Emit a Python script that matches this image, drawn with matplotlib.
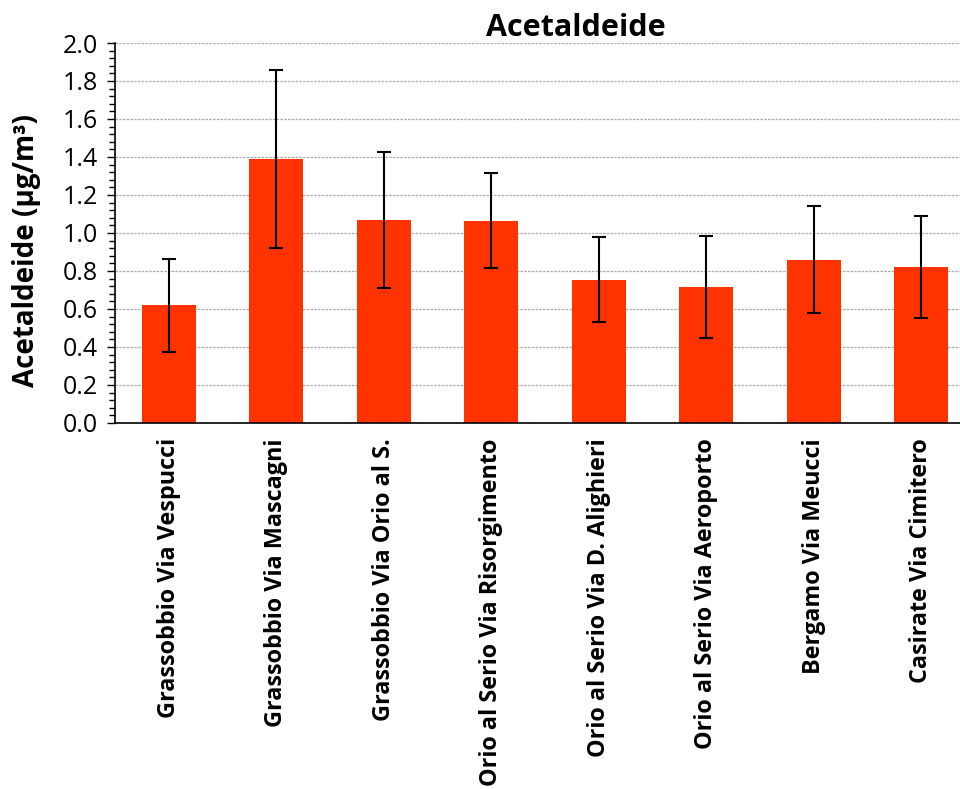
import matplotlib
matplotlib.use('Agg')
import matplotlib.pyplot as plt
from matplotlib.ticker import MultipleLocator

plt.rcParams['font.family'] = ['Open Sans', 'DejaVu Sans']

sites = ['Grassobbio Via Vespucci', 'Grassobbio Via Mascagni', 'Grassobbio Via Orio al S.',
         'Orio al Serio Via Risorgimento', 'Orio al Serio Via D. Alighieri',
         'Orio al Serio Via Aeroporto', 'Bergamo Via Meucci', 'Casirate Via Cimitero']
means = [0.62, 1.39, 1.07, 1.065, 0.755, 0.715, 0.86, 0.82]
errs = [0.245, 0.467, 0.358, 0.25, 0.223, 0.267, 0.283, 0.27]

fig = plt.figure(figsize=(9.6, 7.89), dpi=100)
ax = fig.add_axes([0.1198, 0.4639, 0.8802, 0.4816])

x = range(len(sites))
ax.bar(x, means, width=0.5, color='#ff3300', zorder=2)
ax.errorbar(x, means, yerr=errs, fmt='none', ecolor='black', elinewidth=1.5,
            capsize=5, capthick=1.5, zorder=3)

ax.set_ylim(0, 2.0)
ax.set_xlim(-0.5, 7.36)
ax.yaxis.set_major_locator(MultipleLocator(0.2))
ax.yaxis.set_minor_locator(MultipleLocator(0.04))
ax.set_yticklabels([f'{v:.1f}' for v in ax.get_yticks()])
ax.grid(axis='y', which='major', linestyle=(0, (2, 1)), color='#aaaaaa', linewidth=0.9, zorder=0)
ax.tick_params(axis='y', which='major', length=6, width=1, labelsize=18, pad=6)
ax.tick_params(axis='y', which='minor', length=4, width=1)
ax.set_xticks(list(x))
ax.set_xticklabels(sites, rotation=90, fontsize=16.8, fontweight='bold')
ax.tick_params(axis='x', length=0, pad=11)
for s in ['top', 'right']:
    ax.spines[s].set_visible(False)
ax.spines['left'].set_linewidth(1.2)
ax.spines['bottom'].set_linewidth(1.2)

ax.set_ylabel('Acetaldeide (µg/m³)', fontsize=20, fontweight='bold')
ax.yaxis.set_label_coords(-0.088, 0.455)
fig.text(576 / 960, 1 - 28 / 789, 'Acetaldeide', fontsize=22, fontweight='bold',
         ha='center', va='center')

fig.savefig('out.png', dpi=100)
